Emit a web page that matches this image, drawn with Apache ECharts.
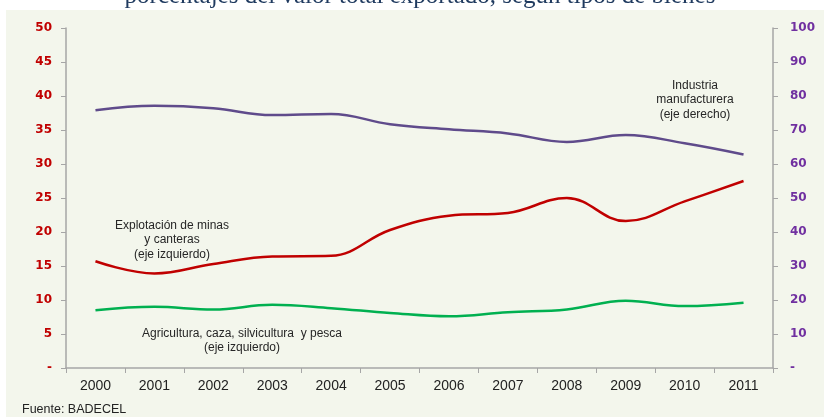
<!DOCTYPE html>
<html>
<head>
<meta charset="utf-8">
<script src="https://cdn.jsdelivr.net/npm/echarts@6/dist/echarts.min.js"></script>
<style>
  html, body { margin: 0; padding: 0; background: #ffffff; }
  #chart { width: 824px; height: 417px; }
</style>
</head>
<body>
<div id="chart"></div>
<script>
const years = ['2000','2001','2002','2003','2004','2005','2006','2007','2008','2009','2010','2011'];
const manufacturera = [75.8, 77.1, 76.4, 74.4, 74.7, 71.7, 70.2, 69.0, 66.5, 68.5, 66.1, 62.8];
const minas = [15.7, 13.9, 15.3, 16.4, 16.5, 20.3, 22.4, 22.8, 25.0, 21.6, 24.5, 27.5];
const agricultura = [8.5, 9.0, 8.6, 9.3, 8.8, 8.1, 7.6, 8.2, 8.6, 9.9, 9.1, 9.6];

const chart = echarts.init(document.getElementById('chart'), null, { renderer: 'canvas' });
const annoFont = { fontFamily: 'Liberation Sans', fontSize: 12, fill: '#262626', align: 'center', verticalAlign: 'top', lineHeight: 14.5 };
const axisGray = '#a6a6a6';

chart.setOption({
  animation: false,
  backgroundColor: '#ffffff',
  graphic: [
    { type: 'rect', z: -10, shape: { x: 6, y: 10, width: 818, height: 407 }, style: { fill: '#f3f6ec' }, silent: true },
    { type: 'text', x: 420, y: -4, style: { text: 'porcentajes del valor total exportado, según tipos de bienes', fontFamily: 'Liberation Serif', fontSize: 25, fill: '#1f3a5f', align: 'center', verticalAlign: 'middle' } },
    { type: 'text', x: 695, y: 78, style: Object.assign({ text: 'Industria\nmanufacturera\n(eje derecho)' }, annoFont) },
    { type: 'text', x: 172, y: 218, style: Object.assign({ text: 'Explotación de minas\ny canteras\n(eje izquierdo)' }, annoFont) },
    { type: 'text', x: 242, y: 326, style: Object.assign({ text: 'Agricultura, caza, silvicultura  y pesca\n(eje izquierdo)' }, annoFont) },
    { type: 'text', x: 22, y: 403, style: { text: 'Fuente: BADECEL', fontFamily: 'Liberation Sans', fontSize: 12.5, fill: '#222222' } }
  ],
  grid: { left: 66, right: 51, top: 28, bottom: 49, containLabel: false },
  xAxis: {
    type: 'category',
    data: years,
    boundaryGap: true,
    axisLine: { lineStyle: { color: axisGray, width: 1.5 } },
    axisTick: { show: true, length: 5, lineStyle: { color: axisGray } },
    axisLabel: { color: '#222222', fontFamily: 'Liberation Sans', fontSize: 14, margin: 11 },
    splitLine: { show: false }
  },
  yAxis: [
    {
      type: 'value', min: 0, max: 50, interval: 5, position: 'left',
      axisLine: { show: true, lineStyle: { color: axisGray, width: 1.5 } },
      axisTick: { show: true, length: 5, lineStyle: { color: axisGray } },
      axisLabel: { color: '#c00000', fontFamily: 'DejaVu Sans', fontWeight: 'bold', fontSize: 12, margin: 14,
        formatter: v => v === 0 ? '-' : String(v) },
      splitLine: { show: false }
    },
    {
      type: 'value', min: 0, max: 100, interval: 10, position: 'right',
      axisLine: { show: true, lineStyle: { color: axisGray, width: 1.5 } },
      axisTick: { show: true, length: 5, lineStyle: { color: axisGray } },
      axisLabel: { color: '#7030a0', fontFamily: 'DejaVu Sans', fontWeight: 'bold', fontSize: 12, margin: 17,
        formatter: v => v === 0 ? '-' : String(v) },
      splitLine: { show: false }
    }
  ],
  series: [
    { name: 'Industria manufacturera', type: 'line', yAxisIndex: 1, data: manufacturera, smooth: 0.4, showSymbol: false,
      lineStyle: { color: '#5f4b8b', width: 2.5 } },
    { name: 'Explotación de minas y canteras', type: 'line', yAxisIndex: 0, data: minas, smooth: 0.4, showSymbol: false,
      lineStyle: { color: '#c00000', width: 2.5 } },
    { name: 'Agricultura, caza, silvicultura y pesca', type: 'line', yAxisIndex: 0, data: agricultura, smooth: 0.4, showSymbol: false,
      lineStyle: { color: '#00b050', width: 2.5 } }
  ]
});
</script>
</body>
</html>
